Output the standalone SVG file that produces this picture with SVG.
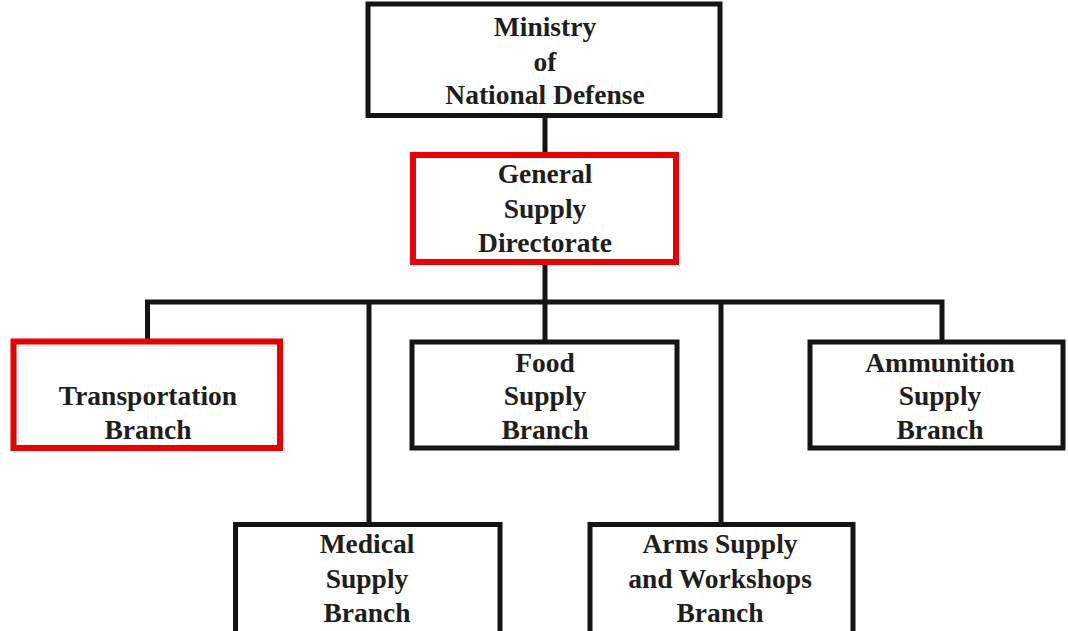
<svg xmlns="http://www.w3.org/2000/svg" width="1068" height="631" viewBox="0 0 1068 631">
  <style>
    .box { fill: #ffffff; stroke: #141414; stroke-width: 5; }
    .hl { fill: #ffffff; stroke: #ee0000; stroke-width: 6; }
    .wire { fill: none; stroke: #141414; stroke-width: 5; }
    text { font-family: "Liberation Serif", "Times New Roman", serif; font-weight: bold; font-size: 27.5px; fill: #1e1e1e; text-anchor: middle; }
  </style>
  <rect width="1068" height="631" fill="#ffffff"/>

  <!-- connectors -->
  <g id="connectors">
    <line class="wire" x1="545" y1="116" x2="545" y2="155"/>
    <line class="wire" x1="545" y1="262" x2="545" y2="341"/>
    <polyline class="wire" points="147.5,341 147.5,302 942,302 942,342"/>
    <line class="wire" x1="369" y1="302" x2="369" y2="524"/>
    <line class="wire" x1="721" y1="302" x2="721" y2="524"/>
  </g>

  <g id="ministry">
    <rect class="box" x="368" y="4" width="352" height="111.5"/>
    <text x="545" y="36">Ministry</text>
    <text x="545" y="70.5">of</text>
    <text x="545" y="104">National Defense</text>
  </g>

  <g id="general-supply">
    <rect class="hl" x="413" y="155" width="263" height="107"/>
    <text x="545" y="183">General</text>
    <text x="545" y="217.5">Supply</text>
    <text x="545" y="252">Directorate</text>
  </g>

  <g id="transportation">
    <rect class="hl" x="13.5" y="341.5" width="266.5" height="106.5"/>
    <text x="148" y="405">Transportation</text>
    <text x="148" y="438.5">Branch</text>
  </g>

  <g id="food-supply">
    <rect class="box" x="412" y="342" width="265" height="106"/>
    <text x="545" y="371.5">Food</text>
    <text x="545" y="405">Supply</text>
    <text x="545" y="438.5">Branch</text>
  </g>

  <g id="ammunition-supply">
    <rect class="box" x="810" y="342" width="253" height="106"/>
    <text x="940" y="371.5">Ammunition</text>
    <text x="940" y="405">Supply</text>
    <text x="940" y="438.5">Branch</text>
  </g>

  <g id="medical-supply">
    <rect class="box" x="235.5" y="524.5" width="264.5" height="120"/>
    <text x="367" y="553">Medical</text>
    <text x="367" y="587.5">Supply</text>
    <text x="367" y="622">Branch</text>
  </g>

  <g id="arms-supply">
    <rect class="box" x="590" y="524.5" width="263" height="120"/>
    <text x="720" y="553">Arms Supply</text>
    <text x="720" y="587.5">and Workshops</text>
    <text x="720" y="621.5">Branch</text>
  </g>
</svg>
